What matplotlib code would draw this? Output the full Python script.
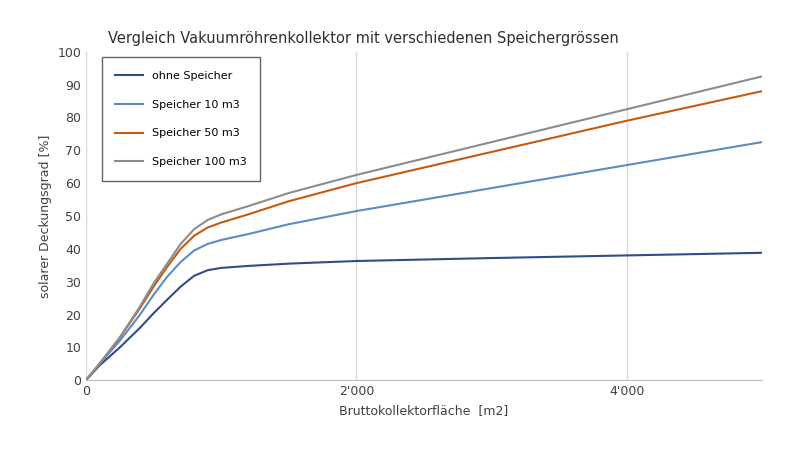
import matplotlib
matplotlib.use("Agg")
import matplotlib.pyplot as plt

x = [0, 100, 250, 400, 500, 600, 700, 800, 900, 1000, 1200, 1500, 2000, 3000, 4000, 5000]
ohne = [0, 4.5, 10, 16, 20.4, 24.5, 28.5, 31.8, 33.5, 34.2, 34.8, 35.5, 36.3, 37.2, 38.0, 38.8]
s10 = [0, 5, 12, 20, 26, 31.5, 36, 39.5, 41.5, 42.7, 44.5, 47.5, 51.5, 58.5, 65.5, 72.5]
s50 = [0, 5, 13, 22, 28.5, 34.5, 40, 44, 46.5, 48, 50.5, 54.5, 60, 69.5, 79, 88]
s100 = [0, 5, 13, 22.5, 29.5, 35.5, 41.5, 46, 48.8, 50.5, 53, 57, 62.5, 72.5, 82.5, 92.5]
labels = ["ohne Speicher", "Speicher 10 m3", "Speicher 50 m3", "Speicher 100 m3"]
colors = ["#2E4D8A", "#5B8DC4", "#C55A11", "#8C8C8C"]

fig = plt.figure(figsize=(8, 4.5), dpi=100)
ax = fig.add_axes([0.1075, 0.155, 0.845, 0.73])
for y, l, c in zip([ohne, s10, s50, s100], labels, colors):
    ax.plot(x, y, color=c, lw=1.5, label=l)
ax.set_xlim(0, 5000)
ax.set_ylim(0, 100)
ax.set_xticks([0, 2000, 4000])
ax.set_xticklabels(["0", "2'000", "4'000"])
ax.set_yticks(range(0, 101, 10))
ax.grid(axis="x", color="#D9D9D9", lw=1)
for s in ["top", "right", "left"]:
    ax.spines[s].set_visible(False)
ax.spines["bottom"].set_color("#BFBFBF")
ax.tick_params(length=0, labelsize=9, colors="#404040")
ax.set_xlabel("Bruttokollektorfläche  [m2]", fontsize=9, color="#404040")
ax.set_ylabel("solarer Deckungsgrad [%]", fontsize=9, color="#404040")
fig.text(0.135, 0.905, "Vergleich Vakuumröhrenkollektor mit verschiedenen Speichergrössen", fontsize=10.5, color="#303030")
leg = ax.legend(loc="upper left", bbox_to_anchor=(0.015, 1.0), fontsize=8, frameon=True,
                fancybox=False, edgecolor="#404040", handlelength=2.5, labelspacing=1.7,
                borderpad=1.2)
leg.get_frame().set_linewidth(1)
fig.savefig("out.png")
